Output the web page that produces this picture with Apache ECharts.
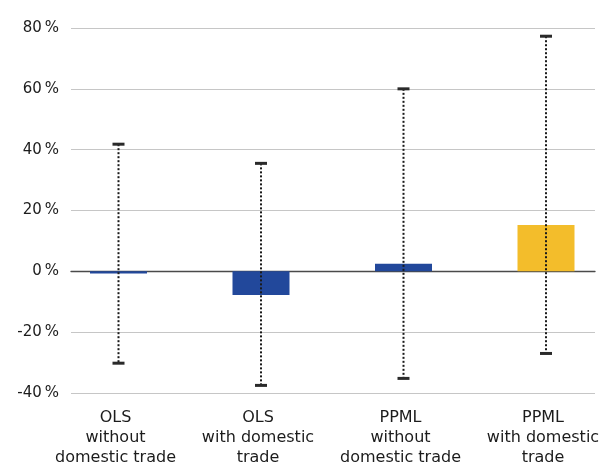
<!DOCTYPE html>
<html>
<head>
<meta charset="utf-8">
<script src="https://cdn.jsdelivr.net/npm/echarts@6/dist/echarts.min.js"></script>
<style>
  html, body { margin: 0; padding: 0; background: #fff; }
  #chart { width: 603px; height: 468px; }
</style>
</head>
<body>
<div id="chart"></div>
<script>
// Estimated effect of a policy, by estimator, with confidence intervals
const categories = [
  'OLS\nwithout\ndomestic trade',
  'OLS\nwith domestic\ntrade',
  'PPML\nwithout\ndomestic trade',
  'PPML\nwith domestic\ntrade'
];
const estimates = [-0.7, -7.8, 2.5, 15.2];
const lowerBounds = [-30.2, -37.5, -35.2, -27.0];
const upperBounds = [41.8, 35.5, 60.0, 77.3];
const barColors = ['#22489b', '#22489b', '#22489b', '#f3bd2b'];
const yTicks = { min: -40, max: 80, interval: 20 };

const FONT = 'DejaVu Sans';
const TEXT = '#1c1c1c';

const chart = echarts.init(document.getElementById('chart'), null, { renderer: 'canvas' });

const errorData = categories.map((_, i) => [i, lowerBounds[i], upperBounds[i]]);

chart.setOption({
  animation: false,
  grid: [
    // gridlines and zero line
    { left: 71, right: 8, top: 28, bottom: 75, outerBoundsMode: 'none' },
    // bars: category points placed at the ends of the axis
    { left: 118.5, right: 57, top: 28, bottom: 75, outerBoundsMode: 'none' }
  ],
  xAxis: [
    {
      gridIndex: 0, type: 'value', min: 0, max: 1,
      axisLine: { show: true, onZero: true, lineStyle: { color: '#4a4a4a', width: 1.3 } },
      axisTick: { show: false }, axisLabel: { show: false }, splitLine: { show: false }
    },
    {
      gridIndex: 1, type: 'category', data: categories, boundaryGap: false,
      axisLine: { show: false }, axisTick: { show: false }, splitLine: { show: false },
      axisLabel: {
        interval: 0, margin: 15, color: TEXT, fontFamily: FONT, fontSize: 16, lineHeight: 20,
        padding: [0, 6, 0, 0]
      }
    }
  ],
  yAxis: [
    {
      gridIndex: 0, type: 'value', min: yTicks.min, max: yTicks.max, interval: yTicks.interval,
      axisLine: { show: false }, axisTick: { show: false },
      axisLabel: {
        margin: 12, color: TEXT, fontFamily: FONT, fontSize: 15,
        formatter: v => v + '\u2009%'
      },
      splitLine: { show: true, lineStyle: { color: '#c6c6c6', width: 1 } }
    },
    {
      gridIndex: 1, type: 'value', min: yTicks.min, max: yTicks.max, interval: yTicks.interval,
      axisLine: { show: false }, axisTick: { show: false }, axisLabel: { show: false },
      splitLine: { show: false }
    }
  ],
  series: [
    {
      type: 'bar', xAxisIndex: 1, yAxisIndex: 1, barWidth: 57,
      data: estimates.map((v, i) => ({ value: v, itemStyle: { color: barColors[i] } })),
      z: 2
    },
    {
      type: 'custom', xAxisIndex: 1, yAxisIndex: 1, z: 5,
      data: errorData,
      renderItem: function (params, api) {
        const x = api.value(0);
        const lo = api.coord([x, api.value(1)]);
        const hi = api.coord([x, api.value(2)]);
        const capHalf = 6;
        return {
          type: 'group',
          children: [
            {
              type: 'line',
              shape: { x1: hi[0], y1: hi[1], x2: lo[0], y2: lo[1] },
              style: { stroke: '#1a1a1a', lineWidth: 2, lineDash: [2, 2] }
            },
            {
              type: 'line',
              shape: { x1: hi[0] - capHalf, y1: hi[1], x2: hi[0] + capHalf, y2: hi[1] },
              style: { stroke: '#2a2a2a', lineWidth: 3 }
            },
            {
              type: 'line',
              shape: { x1: lo[0] - capHalf, y1: lo[1], x2: lo[0] + capHalf, y2: lo[1] },
              style: { stroke: '#2a2a2a', lineWidth: 3 }
            }
          ]
        };
      }
    }
  ]
});
</script>
</body>
</html>
